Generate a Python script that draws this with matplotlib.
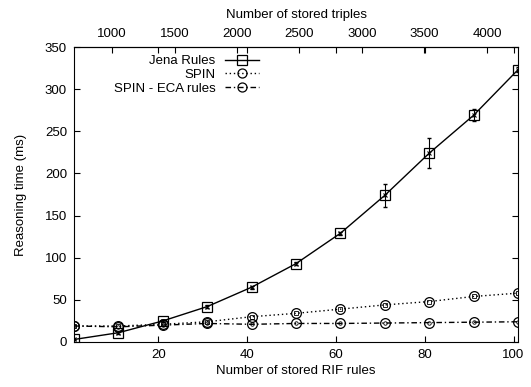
import matplotlib
matplotlib.use('Agg')
import matplotlib.pyplot as plt
from matplotlib.lines import Line2D

plt.rcParams['font.family'] = ['Liberation Sans', 'DejaVu Sans']
plt.rcParams['font.size'] = 9.5

rif_rules = [1, 11, 21, 31, 41, 51, 61, 71, 81, 91, 101]
jena = [3, 11, 25, 42, 65, 93, 129, 174, 224, 269, 323]
jena_err = [1, 1, 1, 2, 2, 2, 2, 14, 18, 7, 3]
spin = [19, 19, 21, 24, 30, 34, 39, 44, 48, 54, 58]
spin_eca = [19, 18, 20, 22, 21, 22, 22, 22.5, 23, 23.5, 24]

triple_ticks = [1000, 1500, 2000, 2500, 3000, 3500, 4000]


def rules_to_triples(r):
    return 35.53 * r + 660


def triples_to_rules(t):
    return (t - 660) / 35.53


fig = plt.figure(figsize=(5.31, 3.87), dpi=100)
ax = fig.add_axes([74 / 531, 1 - 342 / 387, (518 - 74) / 531, (342 - 47) / 387])

ax.errorbar(rif_rules, jena, yerr=jena_err, color='black', fmt='none',
            elinewidth=0.8, capsize=1.5, ls=(0, (2, 1)))
ax.plot(rif_rules, jena, color='black', lw=1.0, marker='s', ms=7, mfc='none', mew=0.9)
ax.plot(rif_rules, jena, color='black', lw=0, marker='x', ms=3.5, mew=0.8)
ax.plot(rif_rules, spin, color='black', lw=1.0, ls=(0, (1, 2)), marker='o', ms=7,
        mfc='none', mew=0.9)
ax.plot(rif_rules, spin, color='black', lw=0, marker='s', ms=2.5, mfc='none', mew=0.6)
ax.plot(rif_rules, spin_eca, color='black', lw=1.0, ls=(0, (4, 2, 1, 2)), marker='o',
        ms=7, mfc='none', mew=0.9)
ax.plot(rif_rules, spin_eca, color='black', lw=0, marker='o', ms=2.5, mfc='none', mew=0.6)

ax.set_xlim(1, 101)
ax.set_ylim(0, 350)
ax.set_xticks([20, 40, 60, 80, 100])
ax.set_yticks(range(0, 351, 50))
ax.tick_params(direction='in', length=4, top=True, right=True, labelsize=9.5, pad=5)
ax.set_xlabel('Number of stored RIF rules', fontsize=9.5, labelpad=3)
ax.set_ylabel('Reasoning time (ms)', fontsize=9.5, labelpad=13)

top = ax.secondary_xaxis('top', functions=(rules_to_triples, triples_to_rules))
top.set_xticks(triple_ticks)
top.tick_params(direction='in', length=4, labelsize=9.5, pad=5)
top.set_xlabel('Number of stored triples', fontsize=9.5, labelpad=7)

handles = [
    Line2D([], [], color='black', lw=1.0, marker='s', ms=6.5, mfc='none', mew=0.9),
    Line2D([], [], color='black', lw=1.0, ls=(0, (1, 2)), marker='o', ms=6.5, mfc='none', mew=0.9),
    Line2D([], [], color='black', lw=1.0, ls=(0, (4, 2, 1, 2)), marker='o', ms=6.5, mfc='none', mew=0.9),
]
ax.legend(handles, ['Jena Rules', 'SPIN', 'SPIN - ECA rules'], loc='upper right',
          bbox_to_anchor=(0.443, 1.013), frameon=False, markerfirst=False,
          fontsize=9.5, handlelength=2.6, labelspacing=0.12, handletextpad=0.7)

fig.savefig('out.png', dpi=100)
